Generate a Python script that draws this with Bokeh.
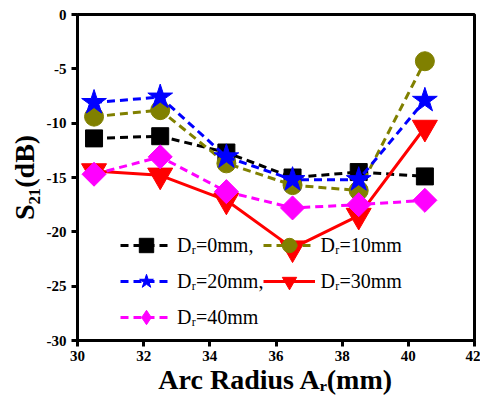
import math
from bokeh.plotting import figure
from bokeh.models import Legend, LegendItem, FixedTicker
from bokeh.embed import file_html
from bokeh.resources import INLINE

x = [30.5, 32.5, 34.5, 36.5, 38.5, 40.5]
d0 = [-11.4, -11.2, -12.7, -15.0, -14.5, -14.9]
d10 = [-9.4, -8.8, -13.7, -15.7, -16.2, -4.3]
d20 = [-8.1, -7.6, -13.1, -15.2, -15.2, -7.9]
d30 = [-14.4, -14.8, -17.1, -21.5, -18.5, -10.4]
d40 = [-14.7, -13.1, -16.3, -17.8, -17.5, -17.1]
labels = ["D\u1d63=0mm,", "D\u1d63=10mm", "D\u1d63=20mm,", "D\u1d63=30mm", "D\u1d63=40mm"]
x_ticks = [30, 32, 34, 36, 38, 40, 42]
y_ticks = [0, -5, -10, -15, -20, -25, -30]

FONT = "Liberation Serif"

p = figure(frame_width=397, frame_height=326, x_range=(30, 42), y_range=(-30, 0),
           output_backend="svg", toolbar_location=None,
           min_border_left=77, min_border_right=6, min_border_top=14, min_border_bottom=50)
p.grid.visible = False
p.outline_line_color = "black"
p.outline_line_width = 3

for ax in (p.xaxis[0], p.yaxis[0]):
    ax.axis_line_width = 3
    ax.major_tick_line_width = 3
    ax.major_tick_out = 6
    ax.major_tick_in = 0
    ax.minor_tick_line_color = None
    ax.major_label_text_font = FONT
    ax.major_label_text_font_style = "bold"
    ax.major_label_text_font_size = "15px"
    ax.axis_label_text_font = FONT
    ax.axis_label_text_font_style = "bold"
    ax.axis_label_text_color = "black"
    ax.major_label_text_color = "black"

p.xaxis.ticker = FixedTicker(ticks=x_ticks)
p.yaxis.ticker = FixedTicker(ticks=y_ticks)
p.yaxis.major_label_overrides = {t: str(t) for t in y_ticks}
p.xaxis.major_label_overrides = {t: str(t) for t in x_ticks}
p.xaxis.axis_label = "Arc Radius A\u1d63(mm)"
p.yaxis.axis_label = "S\u2082\u2081(dB)"
p.xaxis.axis_label_text_font_size = "28px"
p.yaxis.axis_label_text_font_size = "28px"
p.xaxis.axis_label_standoff = 0
p.yaxis.axis_label_standoff = 4
p.xaxis.major_label_standoff = 4

dash = "8 5"
l0 = p.line(x, d0, color="black", line_width=3, line_dash=dash)
m0 = p.scatter(x, d0, marker="square", size=17, color="black")
l1 = p.line(x, d10, color="#808000", line_width=3, line_dash=dash)
m1 = p.scatter(x, d10, marker="circle", size=19, color="#808000")
l2 = p.line(x, d20, color="blue", line_width=3, line_dash=dash)
m2 = p.scatter(x, d20, marker="star", size=26, color="blue")
l3 = p.line(x, d30, color="red", line_width=3)
m3 = p.scatter(x, d30, marker="inverted_triangle", size=25, color="red")
l4 = p.line(x, d40, color="magenta", line_width=3, line_dash=dash)
# diamond drawn beneath the rotated square; it is the one shown in the legend
m4_leg = p.scatter(x, d40, marker="diamond", size=22, color="magenta")
m4 = p.scatter(x, d40, marker="square", size=17, angle=math.pi / 4, color="magenta")

rends = [[l0, m0], [l1, m1], [l2, m2], [l3, m3], [l4, m4_leg]]
order = [0, 2, 4, 1, 3]
legend = Legend(items=[LegendItem(label=labels[i], renderers=rends[i]) for i in order],
                ncols=2, location=(39, 1), orientation="vertical",
                background_fill_alpha=0, border_line_alpha=0,
                label_text_font=FONT, label_text_font_size="20px",
                label_text_color="black",
                glyph_width=52, glyph_height=36, spacing=0, padding=4,
                label_standoff=5)
p.add_layout(legend, "center")

open("out.html", "w").write(file_html(p, INLINE))
